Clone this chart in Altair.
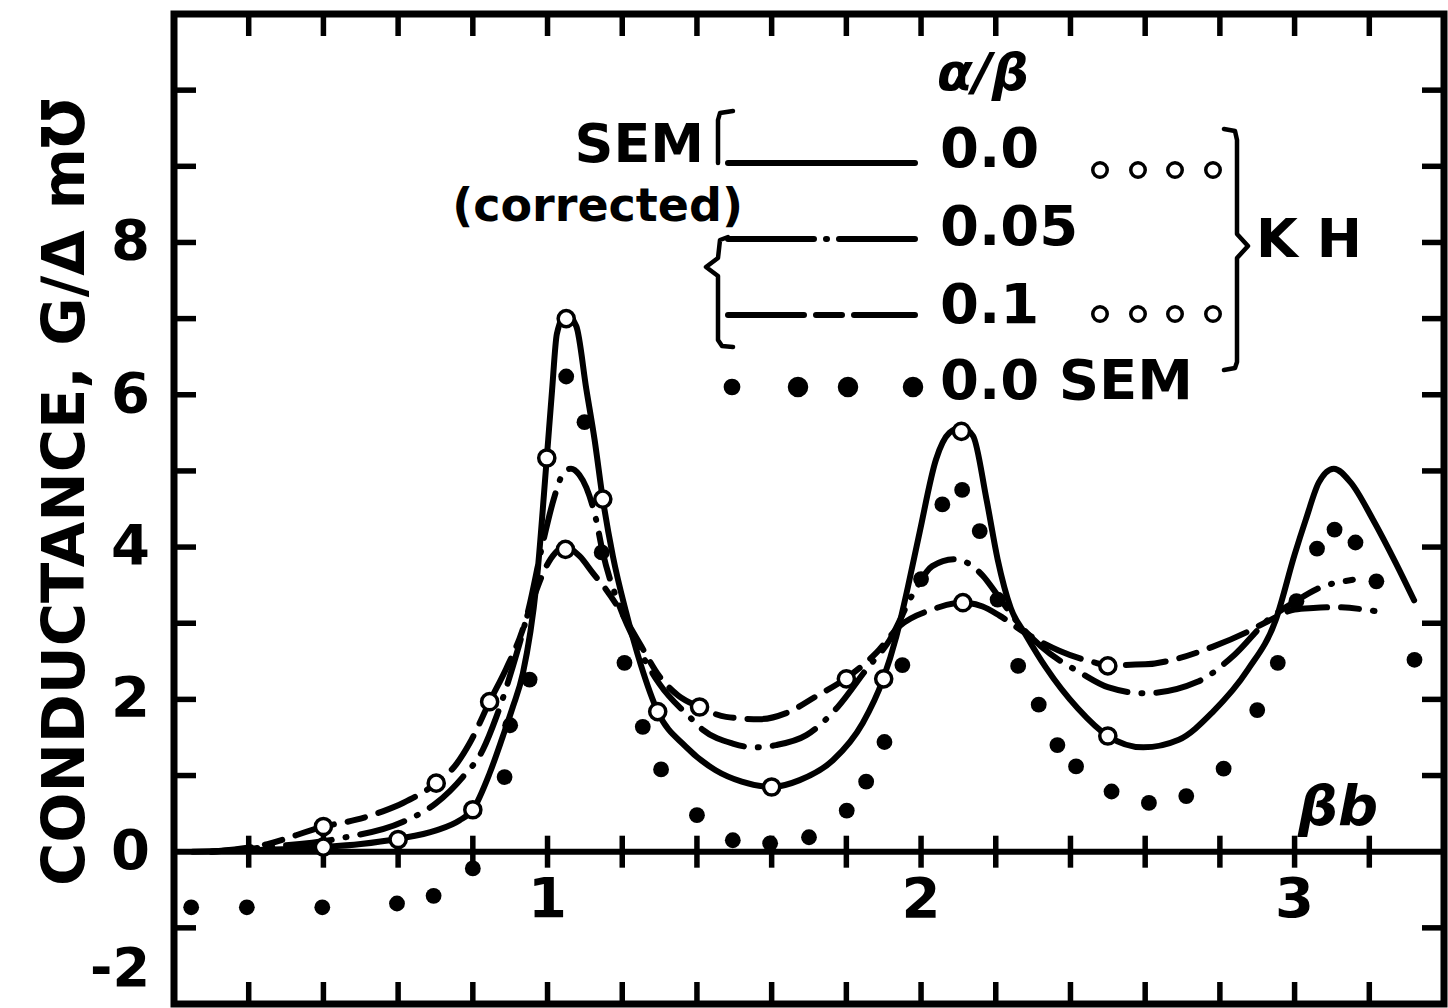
import altair as alt
import pandas as pd

# ---------------- data ----------------
# SEM (corrected), alpha/beta = 0.0  (solid line)
sem00_x = [0.05, 0.2, 0.4, 0.5, 0.6, 0.702, 0.764, 0.8, 0.845, 0.88, 0.907, 0.934, 0.97, 0.998,
           1.012, 1.025, 1.049, 1.077, 1.104, 1.126, 1.148, 1.175, 1.21, 1.25, 1.295, 1.37, 1.45,
           1.52, 1.6, 1.675, 1.764, 1.844, 1.898, 1.934, 1.965, 1.996, 2.04, 2.076, 2.108, 2.139,
           2.175, 2.205, 2.24, 2.28, 2.334, 2.42, 2.5, 2.595, 2.69, 2.78, 2.875, 2.95, 3.0, 3.03,
           3.065, 3.105, 3.15, 3.21, 3.27, 3.32]
sem00_y = [0.0, 0.02, 0.06, 0.1, 0.17, 0.28, 0.41, 0.55, 1.03, 1.51, 1.9, 2.34, 3.5, 5.17,
           6.05, 6.8, 7.06, 6.9, 6.07, 5.41, 4.63, 3.88, 3.15, 2.45, 1.84, 1.38, 1.07,
           0.92, 0.85, 0.94, 1.2, 1.69, 2.26, 2.83, 3.48, 4.19, 5.15, 5.5, 5.57, 5.46,
           4.63, 3.84, 3.2, 2.85, 2.42, 1.88, 1.52, 1.37, 1.47, 1.83, 2.39, 3.05, 3.9, 4.36,
           4.85, 5.03, 4.85, 4.36, 3.8, 3.3]

# alpha/beta = 0.05 (dash-dot line)
a005_x = [0.1, 0.25, 0.45, 0.612, 0.7, 0.773, 0.827, 0.863, 0.907, 0.95, 0.985, 1.019, 1.04,
          1.063, 1.085, 1.104, 1.13, 1.147, 1.193, 1.246, 1.3, 1.38, 1.416, 1.496, 1.55, 1.612,
          1.693, 1.777, 1.853, 1.916, 1.98, 2.03, 2.09, 2.166, 2.2, 2.26, 2.32, 2.43, 2.5, 2.6,
          2.74, 2.84, 2.93, 3.0, 3.06, 3.156]
a005_y = [0.0, 0.06, 0.18, 0.39, 0.63, 0.98, 1.34, 1.77, 2.43, 3.2, 4.0, 4.67, 4.95,
          5.03, 4.95, 4.78, 4.36, 3.95, 3.22, 2.65, 2.2, 1.77, 1.6, 1.42, 1.37, 1.4,
          1.53, 1.9, 2.39, 2.78, 3.4, 3.75, 3.84, 3.62, 3.4, 3.0, 2.7, 2.34, 2.16, 2.08,
          2.23, 2.59, 3.05, 3.28, 3.45, 3.57]

# alpha/beta = 0.1 (dashed line)
a01_x = [0.1, 0.25, 0.4, 0.488, 0.559, 0.613, 0.702, 0.756, 0.791, 0.845, 0.889, 0.925, 0.96,
         0.997, 1.02, 1.048, 1.086, 1.121, 1.157, 1.193, 1.246, 1.3, 1.35, 1.407, 1.478, 1.568,
         1.639, 1.719, 1.8, 1.88, 1.942, 2.03, 2.112, 2.165, 2.21, 2.28, 2.37, 2.46, 2.5, 2.6,
         2.69, 2.78, 2.875, 2.93, 3.0, 3.05, 3.11, 3.214]
a01_y = [0.0, 0.1, 0.33, 0.42, 0.53, 0.64, 0.9, 1.15, 1.42, 1.97, 2.4, 2.8, 3.3,
         3.75, 3.92, 4.0, 3.88, 3.66, 3.44, 3.18, 2.74, 2.3, 2.05, 1.9, 1.77, 1.74,
         1.82, 2.04, 2.28, 2.61, 2.96, 3.18, 3.27, 3.22, 3.1, 2.87, 2.64, 2.49, 2.45, 2.46,
         2.54, 2.69, 2.89, 3.03, 3.18, 3.2, 3.21, 3.16]

# SEM uncorrected, alpha/beta = 0.0 (filled dots)
semraw_x = [0.046, 0.195, 0.397, 0.597, 0.695, 0.8, 0.885, 0.9, 0.952, 1.05, 1.099, 1.145,
            1.206, 1.255, 1.304, 1.4, 1.496, 1.596, 1.7, 1.801, 1.853, 1.902, 1.95, 2.0,
            2.057, 2.11, 2.157, 2.205, 2.26, 2.315, 2.365, 2.415, 2.51, 2.61, 2.71, 2.81,
            2.9, 2.955, 3.005, 3.06, 3.107, 3.163, 3.219, 3.321]
semraw_y = [-0.73, -0.73, -0.73, -0.68, -0.58, -0.22, 0.98, 1.66, 2.26, 6.24, 5.64, 3.93,
            2.48, 1.64, 1.08, 0.48, 0.15, 0.11, 0.19, 0.54, 0.92, 1.44, 2.45, 3.58,
            4.56, 4.75, 4.21, 3.31, 2.44, 1.93, 1.4, 1.12, 0.79, 0.64, 0.73, 1.09,
            1.86, 2.48, 3.29, 3.98, 4.23, 4.06, 3.55, 2.52]

# KH, alpha/beta = 0.0 (open circles)
kh00_x = [0.4, 0.6, 0.8, 0.998, 1.05, 1.148, 1.295, 1.6, 1.9, 2.108, 2.5]
kh00_y = [0.06, 0.16, 0.55, 5.17, 7.0, 4.63, 1.84, 0.85, 2.27, 5.52, 1.52]

# KH, alpha/beta = 0.1 (open circles)
kh01_x = [0.4, 0.702, 0.845, 1.048, 1.407, 1.8, 2.112, 2.5]
kh01_y = [0.33, 0.9, 1.97, 3.97, 1.9, 2.27, 3.27, 2.44]

# axis ticks and labels
x_minor = [0.2, 0.4, 0.6, 0.8, 1.0, 1.2, 1.4, 1.6, 1.8, 2.0, 2.2, 2.4, 2.6, 2.8, 3.0, 3.2]
y_minor = [-1, 1, 2, 3, 4, 5, 6, 7, 8, 9, 10]
x_labels = [1, 2, 3]
y_labels = [0, 2, 4, 6, 8]

legend_values = ["0.0", "0.05", "0.1", "0.0 SEM"]

# ---------------- layout ----------------
W, H = 1270, 990
L, T = 174, 14
XD = [0, 3.4]
YD = [-2, 11]
xs = alt.Scale(domain=XD, nice=False, zero=False)
ys = alt.Scale(domain=YD, nice=False, zero=False)
FONT = "DejaVu Sans"
LW = 6


def px2x(px):
    return XD[0] + (px - L) / W * (XD[1] - XD[0])


def py2y(py):
    return YD[1] - (py - T) / H * (YD[1] - YD[0])


def enc(ch):
    return ch.encode(x=alt.X("x:Q", scale=xs, axis=None),
                     y=alt.Y("y:Q", scale=ys, axis=None))


def curve(xv, yv, dash=None):
    df = pd.DataFrame({"x": xv, "y": yv})
    kw = dict(color="black", strokeWidth=LW, interpolate="monotone", strokeCap="round")
    if dash:
        kw["strokeDash"] = dash
    return enc(alt.Chart(df).mark_line(**kw))


def dots(xv, yv, size, filled=True, sw=3.5):
    df = pd.DataFrame({"x": xv, "y": yv})
    if filled:
        m = alt.Chart(df).mark_point(shape="circle", filled=True, color="black",
                                     size=size, opacity=1)
    else:
        m = alt.Chart(df).mark_point(shape="circle", filled=False, fill="white",
                                     fillOpacity=1, stroke="black", strokeWidth=sw,
                                     size=size, opacity=1)
    return enc(m)


def path(points, sw=4, dash=None):
    df = pd.DataFrame(points, columns=["px", "py"])
    df["x"] = df.px.map(px2x)
    df["y"] = df.py.map(py2y)
    df["i"] = range(len(df))
    kw = dict(color="black", strokeWidth=sw, strokeCap="round", strokeJoin="round")
    if dash:
        kw["strokeDash"] = dash
    return enc(alt.Chart(df).mark_line(**kw)).encode(order="i:Q")


def texts(rows, align="left", size=56, style="normal", weight="bold", angle=0):
    df = pd.DataFrame(rows, columns=["px", "py", "t"])
    df["x"] = df.px.map(px2x)
    df["y"] = df.py.map(py2y)
    kw = dict(align=align, baseline="middle", fontSize=size, font=FONT,
              fontWeight=weight, fontStyle=style, color="black")
    if angle:
        kw["angle"] = angle
    return enc(alt.Chart(df).mark_text(**kw)).encode(text="t:N")


DASHDOT = [46, 14, 1, 14]
DASHED = [40, 14, 18, 14]

layers = []

# frame ticks
tick_px = 22
dy_tick = tick_px / H * (YD[1] - YD[0])
dx_tick = tick_px / W * (XD[1] - XD[0])
tx = pd.DataFrame({"x": x_minor})
tx["top"], tx["top2"] = YD[1], YD[1] - dy_tick
tx["bot"], tx["bot2"] = YD[0], YD[0] + dy_tick
tx["c1"], tx["c2"] = -0.21, 0.21
ty = pd.DataFrame({"y": y_minor})
ty["l1"], ty["l2"] = XD[0], XD[0] + dx_tick
ty["r1"], ty["r2"] = XD[1], XD[1] - dx_tick
rk = dict(color="black", strokeWidth=5.5)
for a, b in [("top", "top2"), ("bot", "bot2"), ("c1", "c2")]:
    layers.append(alt.Chart(tx).mark_rule(**rk).encode(
        x=alt.X("x:Q", scale=xs, axis=None),
        y=alt.Y(f"{a}:Q", scale=ys, axis=None), y2=f"{b}:Q"))
for a, b in [("l1", "l2"), ("r1", "r2")]:
    layers.append(alt.Chart(ty).mark_rule(**rk).encode(
        y=alt.Y("y:Q", scale=ys, axis=None),
        x=alt.X(f"{a}:Q", scale=xs, axis=None), x2=f"{b}:Q"))

# zero line
zl = pd.DataFrame({"x": [XD[0]], "x2": [XD[1]], "y": [0]})
layers.append(alt.Chart(zl).mark_rule(color="black", strokeWidth=6).encode(
    x=alt.X("x:Q", scale=xs, axis=None), x2="x2:Q", y=alt.Y("y:Q", scale=ys, axis=None)))

# tick labels
ylab = pd.DataFrame({"y": y_labels, "t": [str(v) for v in y_labels]})
ylab["x"] = px2x(150)
layers.append(enc(alt.Chart(ylab).mark_text(align="right", baseline="middle", fontSize=56,
                                            font=FONT, fontWeight="bold", color="black"))
              .encode(text="t:N"))
layers.append(texts([(150, 970, "-2")], align="right", size=54))
xlab = pd.DataFrame({"x": x_labels, "t": [str(v) for v in x_labels]})
xlab["y"] = py2y(900)
layers.append(enc(alt.Chart(xlab).mark_text(align="center", baseline="middle", fontSize=56,
                                            font=FONT, fontWeight="bold", color="black"))
              .encode(text="t:N"))

# axis titles
layers.append(texts([(66, 492, "CONDUCTANCE, G/\u0394 m\u2127")], align="center", size=59,
                    angle=270))
layers.append(texts([(1338, 808, "\u03b2b")], align="center", size=56, style="italic"))

# curves
layers.append(curve(a01_x, a01_y, DASHED))
layers.append(curve(a005_x, a005_y, DASHDOT))
layers.append(curve(sem00_x, sem00_y))
layers.append(dots(semraw_x, semraw_y, 250, filled=True))
layers.append(dots(kh00_x, kh00_y, 260, filled=False))
layers.append(dots(kh01_x, kh01_y, 260, filled=False))

# ---------------- legend ----------------
layers.append(texts([(983, 74, "\u03b1/\u03b2")], align="center", size=52, style="italic"))
layers.append(texts([(704, 146, "SEM")], align="right", size=54))
layers.append(texts([(743, 207, "(corrected)")], align="right", size=46))
rows_y = [150, 228, 306, 382]
layers.append(texts([(940, yy, t) for yy, t in zip(rows_y, legend_values)], align="left", size=56))
layers.append(texts([(1256, 241, "K H")], align="left", size=54))

layers.append(path([(728, 163), (915, 163)], sw=LW))
layers.append(path([(728, 239), (915, 239)], sw=LW, dash=[86, 12, 1, 12]))
layers.append(path([(728, 315), (915, 315)], sw=LW, dash=[76, 12, 26, 12]))
# brackets
layers.append(path([(733, 111), (720, 113), (718, 120), (718, 163)], sw=4.5))
layers.append(path([(728, 237), (720, 240), (718, 258), (706, 267), (718, 276),
                    (718, 340), (722, 346), (733, 347)], sw=4.5))
layers.append(path([(1224, 129), (1235, 131), (1237, 140), (1237, 234), (1248, 246),
                    (1237, 258), (1237, 362), (1235, 368), (1224, 370)], sw=4.5))
# legend symbols
lg_open = pd.DataFrame({"px": [1100, 1138, 1175, 1213] * 2,
                        "py": [170] * 4 + [314] * 4})
lg_open["x"] = lg_open.px.map(px2x)
lg_open["y"] = lg_open.py.map(py2y)
layers.append(enc(alt.Chart(lg_open).mark_point(shape="circle", filled=False, fill="white",
                                                fillOpacity=1, stroke="black", strokeWidth=3.5,
                                                size=210, opacity=1)))
lg_fill = pd.DataFrame({"px": [732, 798, 848, 913], "py": [387] * 4, "s": [280, 420, 420, 420]})
lg_fill["x"] = lg_fill.px.map(px2x)
lg_fill["y"] = lg_fill.py.map(py2y)
layers.append(enc(alt.Chart(lg_fill).mark_point(shape="circle", filled=True, color="black",
                                                opacity=1))
              .encode(size=alt.Size("s:Q", scale=None, legend=None)))

chart = alt.layer(*layers).properties(
    width=W, height=H,
    padding={"left": L, "top": T, "right": 1448 - L - W, "bottom": 1008 - T - H},
    autosize=alt.AutoSizeParams(type="none"),
    background="white",
).configure_view(stroke="black", strokeWidth=7)

chart.save("out.html", embed_options={"renderer": "svg", "actions": False})
